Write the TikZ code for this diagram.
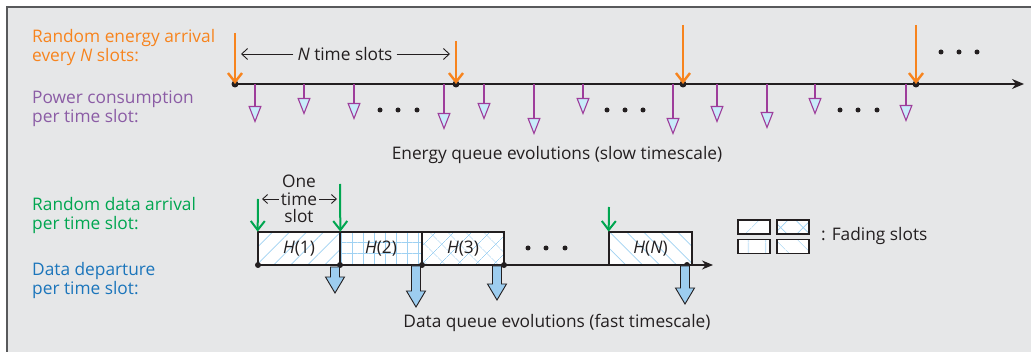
\documentclass[tikz,border=0pt]{standalone}
\usepackage{fontspec}
\setmainfont{Open Sans}
\usetikzlibrary{arrows.meta,patterns.meta}
\definecolor{bgc}{HTML}{E6E7E8}
\definecolor{frame}{HTML}{58595B}
\definecolor{ink}{HTML}{231F20}
\definecolor{eorange}{HTML}{F7841E}
\definecolor{ppl}{HTML}{8B5CA5}
\definecolor{pplarr}{HTML}{9E3D9B}
\definecolor{tri}{HTML}{C9ECFA}
\definecolor{grn}{HTML}{00A650}
\definecolor{blu}{HTML}{1B75BB}
\definecolor{bfill}{HTML}{9DCDEF}
\definecolor{hatch}{HTML}{9FD1F2}
\tikzset{
  lbl/.style={anchor=west,align=left,inner sep=0pt,font=\fontsize{17.3}{19}\selectfont},
  txt/.style={inner sep=0pt,text=ink,font=\fontsize{17.3}{19}\selectfont},
  dotn/.style={circle,fill=ink,inner sep=0pt,minimum size=7pt},
  sdot/.style={circle,fill=ink,inner sep=0pt,minimum size=5pt},
  axis/.style={draw=ink,line width=1.4pt,-{Stealth[length=12pt,width=10pt]}},
  earr/.style={draw=eorange,line width=2.4pt,-{Straight Barb[length=9pt,width=14pt,line width=2.4pt]}},
  garr/.style={draw=grn,line width=2pt,-{Straight Barb[length=9pt,width=14pt,line width=2pt]}},
  parr/.style={draw=pplarr,line width=1.1pt,-{Triangle[length=17pt,width=13pt,fill=tri,line width=1.1pt]}},
  narr/.style={draw=ink,line width=0.9pt,-{Straight Barb[length=6pt,width=11pt]}},
  slotbox/.style={draw=ink,line width=1.4pt,minimum width=82pt,minimum height=33pt,inner sep=0pt,preaction={fill=white},pattern color=hatch,text=ink,font=\fontsize{17.3}{19}\selectfont},
  legbox/.style={draw=ink,line width=1.2pt,minimum width=32pt,minimum height=14pt,inner sep=0pt,preaction={fill=white},pattern color=hatch},
  pne/.style={pattern={Lines[angle=45,distance=12pt,line width=0.7pt]}},
  pnw/.style={pattern={Lines[angle=-45,distance=12pt,line width=0.7pt]}},
  pgrid/.style={pattern={Hatch[angle=0,distance=11pt,line width=0.7pt]}},
  pcross/.style={pattern={Hatch[angle=45,distance=13pt,line width=0.7pt]}},
  pvert/.style={pattern={Lines[angle=90,distance=12pt,line width=0.7pt]}},
  lne/.style={pattern={Lines[angle=45,distance=17pt,line width=0.7pt]}},
  lnw/.style={pattern={Lines[angle=-45,distance=17pt,line width=0.7pt]}},
  lcross/.style={pattern={Hatch[angle=45,distance=16pt,line width=0.7pt]}},
  lvert/.style={pattern={Lines[angle=90,distance=17pt,line width=0.7pt]}},
  pics/darr/.style={code={
    \filldraw[fill=bfill,draw=ink,line width=0.9pt]
      (-4.5,0) -- (4.5,0) -- (4.5,#1-16) -- (9.5,#1-16) -- (0,#1) -- (-9.5,#1-16) -- (-4.5,#1-16) -- cycle;}}
}
\begin{document}
\begin{tikzpicture}[x=1pt,y=-1pt]
\useasboundingbox (0,0) rectangle (1031,352);
\fill[bgc] (7,7) rectangle (1031,352);
\draw[frame,line width=1.5pt] (7,352) -- (7,7) -- (1031,7);

% left labels
\node[lbl,text=eorange] (l1) at (32,47.5) {Random energy arrival\\every \textit{N} slots:};
\node[lbl,text=ppl] (l2) at (32,109) {Power consumption\\per time slot:};
\node[lbl,text=grn] (l3) at (32,216) {Random data arrival\\per time slot:};
\node[lbl,text=blu] (l4) at (32,281) {Data departure\\per time slot:};

% energy axis
\node[dotn] (e1) at (235,84) {};
\node[dotn] (e2) at (456,84) {};
\node[dotn] (e3) at (683,84) {};
\node[dotn] (e4) at (916,84) {};
\coordinate (eend) at (1024,84);
\draw[axis] (e1.center) -- (eend);

% orange arrivals
\coordinate (o1) at (235,33);
\coordinate (o2) at (456,41);
\coordinate (o3) at (683,25);
\coordinate (o4) at (916,25);
\draw[earr] (o1) -- (e1.center);
\draw[earr] (o2) -- (e2.center);
\draw[earr] (o3) -- (e3.center);
\draw[earr] (o4) -- (e4.center);

% N time slots
\node[txt] (nts) at (345,54) {\textit{N} time slots};
\coordinate (nl) at (241,54);
\coordinate (nr) at (450,54);
\draw[narr] (nts.west) ++(-4,0) -- (nl);
\draw[narr] (nts.east) ++(4,0) -- (nr);

% top right dots
\node[sdot] (td1) at (941,52) {};
\node[sdot] (td2) at (959,52) {};
\node[sdot] (td3) at (977,52) {};

% purple consumption arrows
\foreach \x/\b [count=\i] in {255/123,304/115,354/120,444/130,484/120,534/135,583/115,673/135,717/123,767/129,815/115,906/122}{
  \coordinate (pa\i) at (\x,84);
  \coordinate (pb\i) at (\x,\b);
  \draw[parr] (pa\i) -- (pb\i);
}
% energy dots
\foreach \x [count=\i] in {380,398,417}{\node[sdot] (ed\i) at (\x,110) {};}
\foreach \x [count=\i] in {607,625,643}{\node[sdot] (fd\i) at (\x,110) {};}
\foreach \x [count=\i] in {840,858,877}{\node[sdot] (gd\i) at (\x,110) {};}

\node[txt] (eqe) at (557,155) {Energy queue evolutions (slow timescale)};

% data boxes
\node[slotbox,pne] (h1) at (299,248.5) {\textit{H}(1)};
\node[slotbox,pgrid] (h2) at (381,248.5) {\textit{H}(2)};
\node[slotbox,pcross] (h3) at (463,248.5) {\textit{H}(3)};
\node[slotbox,pnw,minimum width=83pt] (hn) at (650.5,248.5) {\textit{H}(\textit{N})};

% data axis
\node[sdot,minimum size=6pt] (d1) at (258,265) {};
\node[sdot,minimum size=6pt] (d2) at (340,265) {};
\node[sdot,minimum size=6pt] (d3) at (422,265) {};
\node[sdot,minimum size=6pt] (d4) at (504,265) {};
\node[sdot,minimum size=6pt] (d5) at (687,265) {};
\coordinate (dend) at (713,265);
\draw[axis,line width=1.2pt,-{Stealth[length=11pt,width=9pt]}] (d1.center) -- (dend);

% middle dots
\node[sdot] (md1) at (528,248) {};
\node[sdot] (md2) at (546,248) {};
\node[sdot] (md3) at (565,248) {};

% green arrivals
\coordinate (g1) at (258,199);
\coordinate (g2) at (340,184);
\coordinate (g3) at (609,207);
\draw[garr] (g1) -- (h1.north west);
\draw[garr] (g2) -- (h1.north east);
\draw[garr] (g3) -- (hn.north west);

% one time slot
\node[txt,align=center,font=\fontsize{17.3}{17.5}\selectfont] (ots) at (299,199) {One\\time\\slot};
\coordinate (otl) at (262,199);
\coordinate (otr) at (337,199);
\draw[narr,-{Straight Barb[length=5pt,width=9pt]}] (ots.west) ++(-2,0) -- (otl);
\draw[narr,-{Straight Barb[length=5pt,width=9pt]}] (ots.east) ++(2,0) -- (otr);

% blue departures
\pic at (335,267) {darr=26};
\pic at (416,266) {darr=41};
\pic at (497,266) {darr=34};
\pic at (685,266) {darr=38};

\node[txt] (dqe) at (557,323) {Data queue evolutions (fast timescale)};

% legend
\node[legbox,lne] (lg1) at (754,227) {};
\node[legbox,lcross] (lg2) at (793,227) {};
\node[legbox,lvert] (lg3) at (754,246.5) {};
\node[legbox,lnw] (lg4) at (793,246.5) {};
\node[txt,anchor=west] (lgt) at (821,236) {: Fading slots};
\end{tikzpicture}
\end{document}
